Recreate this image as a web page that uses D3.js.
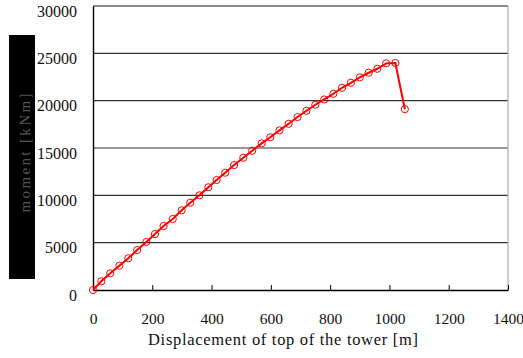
<!DOCTYPE html>
<html>
<head>
<meta charset="utf-8">
<script src="https://cdn.jsdelivr.net/npm/d3@7"></script>
<style>
  body { margin: 0; background: #fff; }
  text { font-family: "Liberation Serif", "DejaVu Serif", serif; }
</style>
</head>
<body>
<div id="chart"></div>
<script>
// displacement [m] and moment [kNm]
var disp = [0, 28, 58, 89, 119, 149, 180, 209, 238, 269, 299, 328, 359, 389,
  417, 446, 476, 507, 537, 569, 598, 629, 660, 690, 720, 750, 780, 811, 840,
  870, 900, 930, 959, 989, 1020, 1052];
var moment = [0, 920, 1760, 2570, 3350, 4220, 5070, 5910, 6760, 7500, 8420,
  9220, 10000, 10850, 11620, 12390, 13200, 13970, 14710, 15490, 16130, 16860,
  17560, 18270, 18930, 19570, 20130, 20730, 21360, 21890, 22460, 22950, 23370,
  23940, 23980, 19100];
var xTicks = [0, 200, 400, 600, 800, 1000, 1200, 1400];
var yTicks = [0, 5000, 10000, 15000, 20000, 25000, 30000];

var svg = d3.select("#chart").append("svg")
  .attr("width", 523)
  .attr("height", 358);

var mLeft = 93, mRight = 508, mTop = 6, mBottom = 290;

var x = d3.scaleLinear().domain([0, 1400]).range([mLeft, mRight]);
var y = d3.scaleLinear().domain([0, 30000]).range([mBottom, mTop]);

// horizontal grid lines
svg.append("g").selectAll("line").data(yTicks.slice(1, -1))
  .enter().append("line")
  .attr("x1", mLeft).attr("x2", mRight)
  .attr("y1", function(d) { return y(d); })
  .attr("y2", function(d) { return y(d); })
  .attr("stroke", "#333")
  .attr("stroke-width", 1.2);

// top and right frame (grey)
svg.append("line")
  .attr("x1", mLeft).attr("x2", mRight).attr("y1", mTop).attr("y2", mTop)
  .attr("stroke", "#888").attr("stroke-width", 2);
svg.append("line")
  .attr("x1", mRight).attr("x2", mRight).attr("y1", mTop).attr("y2", mBottom)
  .attr("stroke", "#aaa").attr("stroke-width", 1.2);

// x axis, ticks pointing inward
var xAxis = svg.append("g")
  .attr("transform", "translate(0," + mBottom + ")")
  .call(d3.axisBottom(x).tickValues(xTicks).tickFormat(d3.format("d"))
    .tickSizeInner(-5).tickSizeOuter(0).tickPadding(23));
xAxis.select(".domain").attr("stroke", "#000").attr("stroke-width", 1.4);
xAxis.selectAll(".tick line").attr("stroke", "#000");
xAxis.selectAll("text").attr("font-size", 15.5).attr("fill", "#111")
  .attr("font-family", "Liberation Serif, serif");

// y axis (labels sit slightly below their grid line)
var yAxis = svg.append("g")
  .attr("transform", "translate(" + mLeft + ",0)")
  .call(d3.axisLeft(y).tickValues(yTicks).tickSize(0).tickPadding(16).tickFormat(d3.format("d")));
yAxis.select(".domain").attr("stroke", "#000").attr("stroke-width", 1.4);
yAxis.selectAll("text").attr("font-size", 16).attr("fill", "#111")
  .attr("dy", "0.63em")
  .attr("font-family", "Liberation Serif, serif");

// x title
svg.append("text")
  .attr("x", 283).attr("y", 345)
  .attr("text-anchor", "middle")
  .attr("font-size", 16.5)
  .attr("fill", "#111")
  .attr("textLength", 270)
  .attr("lengthAdjust", "spacing")
  .text("Displacement of top of the tower [m]");

// black box with y title
svg.append("rect")
  .attr("x", 9).attr("y", 35).attr("width", 26).attr("height", 244)
  .attr("fill", "#000");
svg.append("text")
  .attr("transform", "translate(30,153) rotate(-90)")
  .attr("text-anchor", "middle")
  .attr("font-size", 15)
  .attr("fill", "#555")
  .attr("textLength", 119)
  .attr("lengthAdjust", "spacing")
  .text("moment [kNm]");

// series
var pts = disp.map(function(d, i) { return [d, moment[i]]; });

svg.append("path")
  .datum(pts)
  .attr("fill", "none")
  .attr("stroke", "#ff0000")
  .attr("stroke-width", 2)
  .attr("d", d3.line()
    .x(function(d) { return x(d[0]); })
    .y(function(d) { return y(d[1]); }));

svg.append("g").selectAll("circle").data(pts)
  .enter().append("circle")
  .attr("cx", function(d) { return x(d[0]); })
  .attr("cy", function(d) { return y(d[1]); })
  .attr("r", 3.6)
  .attr("fill", "none")
  .attr("stroke", "#ff0000")
  .attr("stroke-width", 1);
</script>
</body>
</html>
